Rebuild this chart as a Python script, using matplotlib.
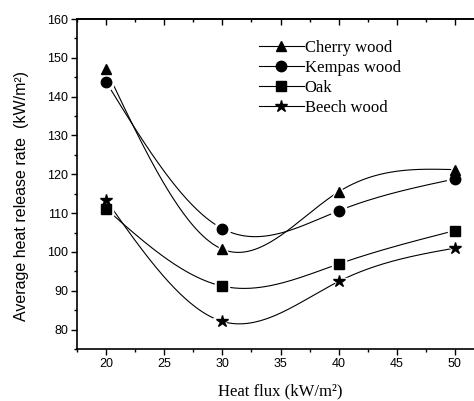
import matplotlib
matplotlib.use('Agg')
import matplotlib.pyplot as plt
from matplotlib.lines import Line2D
from matplotlib.ticker import MultipleLocator
import numpy as np

heat_flux = [20, 30, 40, 50]
cherry = [147.0, 100.7, 115.5, 121.2]
kempas = [143.8, 106.0, 110.6, 118.8]
oak = [111.1, 91.2, 96.9, 105.5]
beech = [113.4, 82.1, 92.4, 101.0]

names = ["Cherry wood", "Kempas wood", "Oak", "Beech wood"]
markers = ['^', 'o', 's', '*']
sizes = [7.5, 7.5, 6.5, 9]


def natural_spline(x, y, n=200):
    # natural cubic spline through the points, like Origin's spline connection
    x = np.asarray(x, float)
    y = np.asarray(y, float)
    k = len(x)
    h = np.diff(x)
    A = np.zeros((k, k))
    b = np.zeros(k)
    A[0, 0] = A[-1, -1] = 1
    for i in range(1, k - 1):
        A[i, i - 1] = h[i - 1]
        A[i, i] = 2 * (h[i - 1] + h[i])
        A[i, i + 1] = h[i]
        b[i] = 6 * ((y[i + 1] - y[i]) / h[i] - (y[i] - y[i - 1]) / h[i - 1])
    M = np.linalg.solve(A, b)
    xs = np.linspace(x[0], x[-1], n)
    idx = np.clip(np.searchsorted(x, xs) - 1, 0, k - 2)
    x0, x1 = x[idx], x[idx + 1]
    hh = x1 - x0
    ys = (M[idx] * (x1 - xs) ** 3 / (6 * hh) + M[idx + 1] * (xs - x0) ** 3 / (6 * hh)
          + (y[idx] / hh - M[idx] * hh / 6) * (x1 - xs)
          + (y[idx + 1] / hh - M[idx + 1] * hh / 6) * (xs - x0))
    return xs, ys


fig = plt.figure(figsize=(4.74, 4.01), dpi=100)
ax = fig.add_axes([77 / 474, 1 - 349 / 401, (484 - 77) / 474, (349 - 19) / 401])

for data, m, s in zip([cherry, kempas, oak, beech], markers, sizes):
    xs, ys = natural_spline(heat_flux, data)
    ax.plot(xs, ys, color='black', lw=0.8, zorder=2)
    ax.plot(heat_flux, data, ls='none', marker=m, ms=s + 4, color='white', zorder=3)
    ax.plot(heat_flux, data, ls='none', marker=m, ms=s, color='black', zorder=4)

ax.set_xlim(17.5, 52.5)
ax.set_ylim(75, 160)
ax.xaxis.set_major_locator(MultipleLocator(5))
ax.xaxis.set_minor_locator(MultipleLocator(2.5))
ax.yaxis.set_major_locator(MultipleLocator(10))
ax.yaxis.set_minor_locator(MultipleLocator(5))
ax.spines['right'].set_visible(False)
for sp in ax.spines.values():
    sp.set_linewidth(1.2)

ax.tick_params(which='both', direction='out', width=1, labelsize=9, pad=2)
ax.tick_params(which='major', length=4.5)
ax.tick_params(which='minor', length=2.5)
for lab in ax.get_xticklabels() + ax.get_yticklabels():
    lab.set_family('Liberation Sans')

# top axis with inward ticks
top = ax.secondary_xaxis('top')
top.xaxis.set_major_locator(MultipleLocator(5))
top.xaxis.set_minor_locator(MultipleLocator(2.5))
top.tick_params(which='both', direction='in', width=1, labeltop=False)
top.tick_params(which='major', length=4.5)
top.tick_params(which='minor', length=2.5)
top.spines['top'].set_linewidth(1.2)

ax.set_xlabel("Heat flux (kW/m²)", family='Liberation Serif', fontsize=12)
ax.xaxis.set_label_coords(0.5, -(383 - 349) / 330)
ax.set_ylabel("Average heat release rate  (kW/m²)", family='Liberation Sans', fontsize=11.5)
ax.yaxis.set_label_coords(-(77 - 29) / 407, (349 - 196) / 330)

handles = [Line2D([], [], color='black', lw=0.8, marker=m, ms=s) for m, s in zip(markers, sizes)]
ax.legend(handles, names, loc='upper left', bbox_to_anchor=(0.43, 0.958), frameon=False,
          prop={'family': 'Liberation Serif', 'size': 12}, handlelength=2.7,
          handletextpad=0.05, labelspacing=0.25, borderaxespad=0)

fig.savefig('out.png', dpi=100)
